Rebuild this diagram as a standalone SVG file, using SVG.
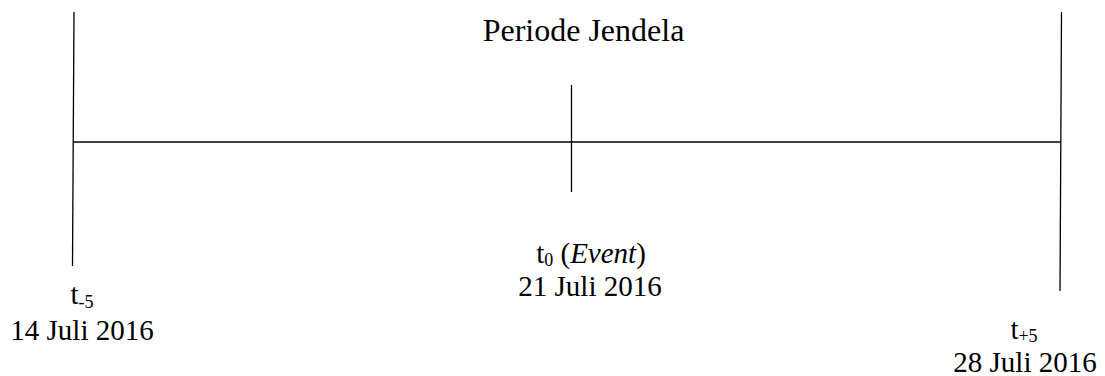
<svg xmlns="http://www.w3.org/2000/svg" width="1105" height="376" viewBox="0 0 1105 376">
<style>
.ln{stroke:#000;stroke-width:1.3;fill:none}
text{font-family:"Liberation Serif","Times New Roman",serif;font-size:29px;fill:#000}
text.title{font-size:32px}
.sub{font-size:18px}
</style>
<rect width="1105" height="376" fill="#fff"/>
<g id="connectors">
<line class="ln" x1="73" y1="142" x2="1061" y2="142"/>
</g>
<g id="start">
<line class="ln" x1="74" y1="12" x2="72.5" y2="266"/>
<text x="82" y="304" text-anchor="middle">t<tspan class="sub" dy="4">-5</tspan></text>
<text x="82" y="340" text-anchor="middle">14 Juli 2016</text>
</g>
<g id="event">
<line class="ln" x1="571.5" y1="85" x2="571.5" y2="192"/>
<text x="591" y="263" text-anchor="middle">t<tspan class="sub" dy="3">0</tspan><tspan dy="-3"> (</tspan><tspan font-style="italic">Event</tspan>)</text>
<text x="590" y="296" text-anchor="middle">21 Juli 2016</text>
</g>
<g id="end">
<line class="ln" x1="1061.5" y1="12" x2="1060" y2="291"/>
<text x="1024" y="339" text-anchor="middle">t<tspan class="sub" dy="3">+5</tspan></text>
<text x="1025" y="372" text-anchor="middle">28 Juli 2016</text>
</g>
<g id="title">
<text class="title" x="583.5" y="41" text-anchor="middle">Periode Jendela</text>
</g>
</svg>
